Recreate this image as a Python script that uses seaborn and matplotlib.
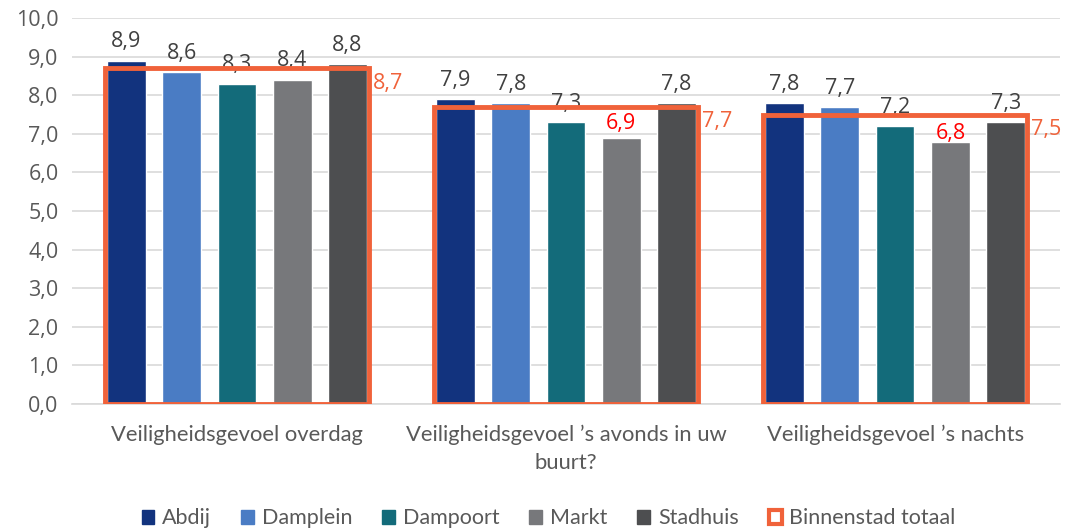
import matplotlib
matplotlib.use("Agg")
import matplotlib.pyplot as plt
import seaborn as sns
import pandas as pd
from matplotlib.patches import Patch

categories = ["Veiligheidsgevoel overdag",
              "Veiligheidsgevoel \u2019s avonds in uw\nbuurt?",
              "Veiligheidsgevoel \u2019s nachts"]
series = ["Abdij", "Damplein", "Dampoort", "Markt", "Stadhuis"]
abdij = [8.9, 7.9, 7.8]
damplein = [8.6, 7.8, 7.7]
dampoort = [8.3, 7.3, 7.2]
markt = [8.4, 6.9, 6.8]
stadhuis = [8.8, 7.8, 7.3]
totaal = [8.7, 7.7, 7.5]
yticks = [0, 1, 2, 3, 4, 5, 6, 7, 8, 9, 10]

colors = ["#12337E", "#4A7CC4", "#136B7A", "#77787B", "#4D4E50"]
orange = "#F0623A"
red_labels = {("Markt", 1): 3, ("Markt", 2): -2}

rows = []
for s, vals in zip(series, [abdij, damplein, dampoort, markt, stadhuis]):
    for c, v in zip(categories, vals):
        rows.append({"cat": c, "serie": s, "val": v})
df = pd.DataFrame(rows)

sns.set_style("white")
plt.rcParams['font.family'] = ['Open Sans', 'DejaVu Sans']

fig = plt.figure(figsize=(10.65, 5.31), dpi=100)
ax = fig.add_axes([0.068, 0.239, 0.927, 0.727])

sns.barplot(data=df, x="cat", y="val", hue="serie", order=categories,
            hue_order=series, palette=colors, width=0.84, gap=0.3,
            saturation=1, legend=False, ax=ax, zorder=2)

for si, cont in enumerate(ax.containers):
    labels = [f"{v:.1f}".replace(".", ",") for v in cont.datavalues]
    txts = ax.bar_label(cont, labels=labels, padding=6, fontsize=15.5, color="#404040")
    for ci, t in enumerate(txts):
        key = (series[si], ci)
        if key in red_labels:
            t.set_color("#FF0000")
            t.xyann = (0, red_labels[key])

# totals as outlined bars
tot_df = pd.DataFrame({"cat": categories, "val": totaal})
sns.barplot(data=tot_df, x="cat", y="val", order=categories, fill=False,
            width=0.8, color=orange, linewidth=3.5, ax=ax, zorder=3,
            edgecolor=orange)
for i, v in enumerate(totaal):
    ax.text(i + 0.412, v - 0.12, f"{v:.1f}".replace(".", ","), color=orange,
            fontsize=15.5, ha="left", va="top")

ax.set_xlim(-0.5, 2.5)
ax.set_ylim(0, 10)
ax.set_yticks(yticks)
ax.set_yticklabels([f"{t:.1f}".replace(".", ",") for t in yticks], fontsize=15.5, color="#595959")
ax.set_xticks(range(len(categories)))
ax.set_xticklabels(categories, multialignment="center", linespacing=1.5,
                   family=["Lato", "DejaVu Sans"], fontsize=15.8, color="#595959")
ax.tick_params(axis="x", length=0, pad=15)
ax.tick_params(axis="y", length=0, pad=10)
ax.set_xlabel("")
ax.set_ylabel("")
ax.yaxis.grid(True, color="#D9D9D9", linewidth=1.2, zorder=0)
ax.set_axisbelow(True)
for sp in ["top", "right", "left"]:
    ax.spines[sp].set_visible(False)
ax.spines["bottom"].set_color("#D9D9D9")
ax.spines["bottom"].set_linewidth(1.2)

handles = [Patch(facecolor=c, edgecolor=c, label=s) for s, c in zip(series, colors)]
handles.append(Patch(facecolor="white", edgecolor=orange, linewidth=3, label="Binnenstad totaal"))
leg = fig.legend(handles=handles, loc="center", bbox_to_anchor=(0.515, 0.024), ncol=6,
                 frameon=False, handlelength=0.6, handleheight=0.6, handletextpad=0.35,
                 columnspacing=1.4,
                 prop={"family": ["Lato", "DejaVu Sans"], "size": 15.5})
for t in leg.get_texts():
    t.set_color("#595959")

fig.savefig("out.png", dpi=100)
